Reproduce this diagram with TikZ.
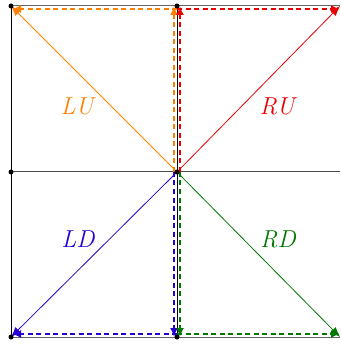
\documentclass[tikz,border=0pt]{standalone}
\usetikzlibrary{arrows.meta}
\definecolor{cor}{RGB}{255,128,0}
\definecolor{cre}{RGB}{235,0,0}
\definecolor{cbl}{RGB}{40,0,210}
\definecolor{cgr}{RGB}{0,120,0}
\begin{document}
\begin{tikzpicture}[x=1pt,y=-1pt,
  grid/.style={line width=1pt},
  diag/.style={line width=0.8pt,-{Latex[length=10pt,width=8pt]}},
  dsh/.style={line width=2pt,dash pattern=on 5pt off 3.5pt,-{Latex[length=9pt,width=8pt]}},
  dot/.style={circle,fill,inner sep=0pt,minimum size=5pt},
  lab/.style={font=\fontsize{24.5}{28}\selectfont\itshape}]
\useasboundingbox (0,0) rectangle (340,344);
\coordinate (TL) at (11,6);
\coordinate (TM) at (177,6);
\coordinate (TR) at (340,6);
\coordinate (ML) at (11,172);
\coordinate (C) at (177,172);
\coordinate (MR) at (340,172);
\coordinate (BL) at (11,337);
\coordinate (BM) at (177,337);
\coordinate (BR) at (340,337);
% grid lines
\draw[grid,gray!80!black] (TL) -- (TR);
\draw[grid,gray!80!black] (BL) -- (BR);
\draw[grid,gray!60!black] (ML) -- (MR);
\draw[grid] (TL) -- (BL);
\draw[grid] (TM) -- (BM);
% dashed arrows
\coordinate (o1) at (174,172); \coordinate (o2) at (174,6);
\coordinate (o3) at (177,9); \coordinate (o4) at (12,9);
\coordinate (r1) at (180,172); \coordinate (r2) at (180,6);
\coordinate (r3) at (177,9); \coordinate (r4) at (340,9);
\coordinate (b1) at (174,172); \coordinate (b2) at (174,337);
\coordinate (b3) at (177,334); \coordinate (b4) at (12,334);
\coordinate (g1) at (180,172); \coordinate (g2) at (180,337);
\coordinate (g3) at (177,334); \coordinate (g4) at (340,334);
\draw[dsh,cor] (o1) -- (o2);
\draw[dsh,cor] (o3) -- (o4);
\draw[dsh,cre] (r1) -- (r2);
\draw[dsh,cre] (r3) -- (r4);
\draw[dsh,cbl] (b1) -- (b2);
\draw[dsh,cbl] (b3) -- (b4);
\draw[dsh,cgr] (g1) -- (g2);
\draw[dsh,cgr] (g3) -- (g4);
% diagonals
\draw[diag,cor] (C) -- (TL);
\draw[diag,cre] (C) -- (TR);
\draw[diag,cbl] (C) -- (BL);
\draw[diag,cgr] (C) -- (BR);
% dots
\foreach \p in {TL,TM,ML,C,BL,BM} \node[dot] (d\p) at (\p) {};
% labels
\node[lab,text=cor] (lu) at (77,106) {LU};
\node[lab,text=cre] (ru) at (277,106) {RU};
\node[lab,text=cbl] (ld) at (78,239) {LD};
\node[lab,text=cgr] (rd) at (278,239) {RD};
\end{tikzpicture}
\end{document}
